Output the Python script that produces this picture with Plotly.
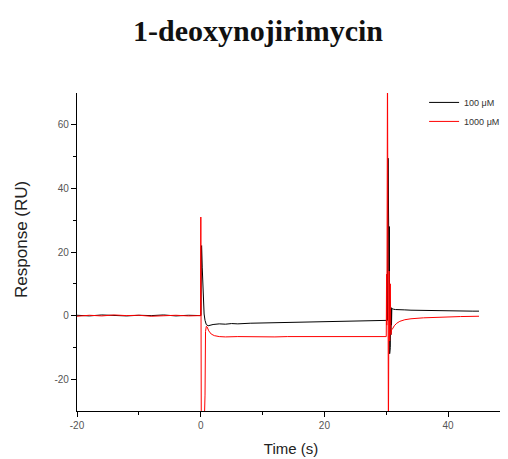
import plotly.graph_objects as go

title_text = "1-deoxynojirimycin"
series_names = ["100 \u03bcM", "1000 \u03bcM"]
series_colors = ["#000000", "#ff0000"]

x_tick_vals = [-20, 0, 20, 40]
x_tick_text = ["-20", "0", "20", "40"]
y_tick_vals = [-20, 0, 20, 40, 60]
y_tick_text = ["-20", "0", "20", "40", "60"]

# 100 uM trace (time in s, response in RU)
time_100 = [-20, -18, -16, -14, -12, -10, -8, -6, -4, -2, -0.5, 0.05,
            0.1, 0.15, 0.25, 0.35, 0.45, 0.55, 0.7, 0.9, 1.2, 1.6, 2, 3, 4, 5,
            6, 8, 10, 12, 14, 16, 18, 20, 22, 24, 26, 28, 29.5, 30.2,
            30.3, 30.35, 30.4, 30.45, 30.5, 30.55, 30.6, 30.65, 30.7, 30.75,
            30.8, 30.85, 30.9, 31.0, 31.2, 31.5, 32, 33, 34, 36, 38, 40, 42,
            44, 45]
resp_100 = [0.1, -0.1, 0.2, 0.0, -0.1, 0.1, 0.0, 0.2, -0.1, 0.1, 0.0, 0.0,
            21.5, 22.0, 15.0, 8.0, 3.0, 0.5, -1.5, -2.8, -3.2, -3.0, -2.8, -2.6,
            -2.7, -2.5, -2.6, -2.4, -2.3, -2.3, -2.2, -2.1, -2.0, -1.9, -1.9,
            -1.8, -1.7, -1.6, -1.5, -1.5,
            49.5, 30.0, 47.0, 14.0, 28.0, -12.0, 5.0, -10.0, 2.0, -6.0,
            2.5, -3.0, 2.2, 2.1, 2.0, 1.9, 1.8, 1.8, 1.7, 1.6, 1.6, 1.5, 1.5,
            1.4, 1.4]

# 1000 uM trace
time_1000 = [-20, -18, -16, -14, -12, -10, -8, -6, -4, -2, -0.5, -0.02,
             0.02, 0.1, 0.5, 0.7, 0.78, 0.9, 1.05, 1.3, 1.7, 2.2, 3, 4, 6, 8,
             10, 12, 14, 16, 18, 20, 22, 24, 26, 28, 30.0, 30.05, 30.08,
             30.12, 30.2, 30.25, 30.3, 30.35, 30.45, 30.55, 30.65, 30.75,
             30.85, 31.0, 31.3, 31.7, 32.2, 33, 34, 36, 38, 40, 42, 45]
resp_1000 = [-0.2, 0.1, -0.1, 0.2, 0.0, 0.1, -0.2, 0.0, 0.1, -0.1, 0.0, 0.0,
             31.0, -40.0, -40.0, -25.0, -5.0, -3.4, -3.6, -4.8, -5.8, -6.3,
             -6.6, -6.7, -6.6, -6.7, -6.6, -6.7, -6.6, -6.6, -6.7, -6.6, -6.6,
             -6.7, -6.6, -6.6, -6.6, 13.0, -3.0, 12.0, 80.0, -40.0, 75.0,
             -40.0, 14.0, -8.0, 10.0, -6.0, -4.5, -4.2, -3.2, -2.4, -1.8,
             -1.3, -1.0, -0.7, -0.5, -0.4, -0.3, -0.2]

x_title = "Time (s)"
y_title = "Response (RU)"

fig = go.Figure()
fig.add_trace(go.Scatter(x=time_100, y=resp_100, mode="lines",
                         name=series_names[0],
                         line=dict(color=series_colors[0], width=1)))
fig.add_trace(go.Scatter(x=time_1000, y=resp_1000, mode="lines",
                         name=series_names[1],
                         line=dict(color=series_colors[1], width=1)))

axis_font = dict(family="Liberation Sans, Arial, sans-serif", size=10, color="#555555")

# the page body adds an 8px offset, so the figure is 500x451
fig.update_layout(
    width=500, height=451,
    margin=dict(l=69, r=3, t=85, b=48),
    paper_bgcolor="white", plot_bgcolor="white",
    title=dict(text="<b>" + title_text + "</b>", x=0.5, xanchor="center",
               y=0.951, yanchor="middle",
               font=dict(family="Liberation Serif, Times New Roman, serif",
                         size=30, color="#111111")),
    showlegend=True,
    legend=dict(x=0.811, y=1.016, xanchor="left", yanchor="top",
                font=dict(family="Liberation Sans, Arial, sans-serif", size=9,
                          color="#333333"),
                bgcolor="rgba(0,0,0,0)", tracegroupgap=0),
    xaxis=dict(range=[-20, 49.2], tickvals=x_tick_vals, ticktext=x_tick_text,
               ticks="outside", ticklen=5, tickwidth=1, tickcolor="#000",
               showline=True, linecolor="#000", linewidth=1.2,
               showgrid=False, zeroline=False, tickfont=axis_font,
               automargin=False,
               minor=dict(tickvals=[-10, 10, 30], ticks="outside", ticklen=3,
                          tickcolor="#000", tickwidth=1),
               title=dict(text=x_title, standoff=13,
                          font=dict(family="Liberation Sans, Arial, sans-serif",
                                    size=15, color="#222222"))),
    yaxis=dict(range=[-30, 70], tickvals=y_tick_vals, ticktext=y_tick_text,
               ticks="outside", ticklen=5, tickwidth=1, tickcolor="#000",
               showline=True, linecolor="#000", linewidth=1.2,
               showgrid=False, zeroline=False, tickfont=axis_font,
               automargin=False,
               minor=dict(tickvals=[-10, 10, 30, 50], ticks="outside", ticklen=3,
                          tickcolor="#000", tickwidth=1)),
    annotations=[dict(text=y_title, textangle=-90, xref="paper", yref="paper",
                      x=-0.1285, y=0.538, xanchor="center", yanchor="middle",
                      showarrow=False,
                      font=dict(family="Liberation Sans, Arial, sans-serif",
                                size=17, color="#222222"))],
)

fig.write_html("out.html")
